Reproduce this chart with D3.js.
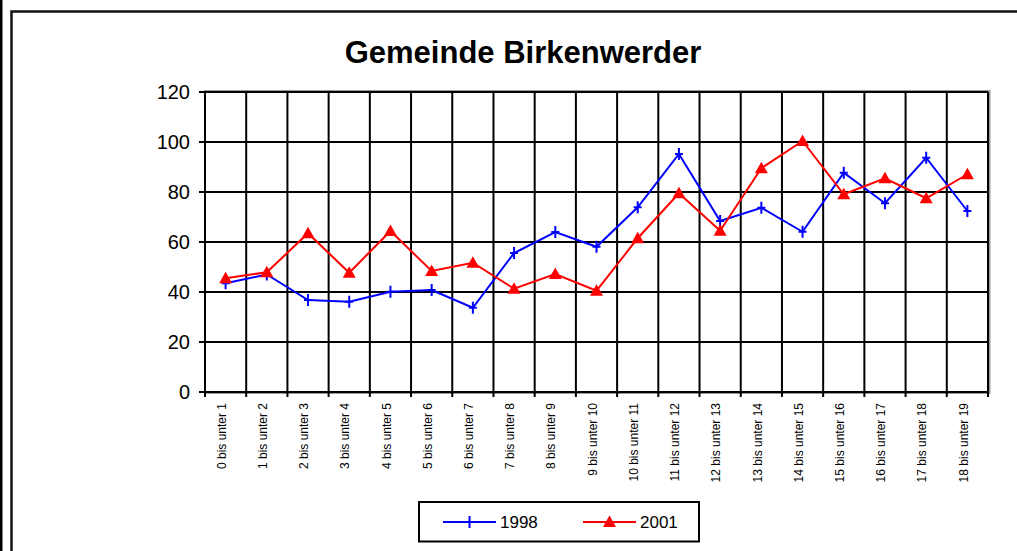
<!DOCTYPE html>
<html>
<head>
<meta charset="utf-8">
<script src="https://cdn.jsdelivr.net/npm/d3@7"></script>
<style>
  body { margin: 0; background: #fff; }
  svg { display: block; font-family: "Liberation Sans", Arial, sans-serif; }
</style>
</head>
<body>
<svg id="chart" width="1017" height="551"></svg>
<script>
const categories = [
  '0 bis unter 1', '1 bis unter 2', '2 bis unter 3', '3 bis unter 4',
  '4 bis unter 5', '5 bis unter 6', '6 bis unter 7', '7 bis unter 8',
  '8 bis unter 9', '9 bis unter 10', '10 bis unter 11', '11 bis unter 12',
  '12 bis unter 13', '13 bis unter 14', '14 bis unter 15', '15 bis unter 16',
  '16 bis unter 17', '17 bis unter 18', '18 bis unter 19'
];

const values1998 = [43.5, 47, 36.8, 36.1, 40.1, 40.8, 33.7, 55.6, 64, 58.1,
                    73.9, 95.2, 68.4, 73.7, 64.1, 87.7, 75.5, 93.7, 72.4];

const values2001 = [45.5, 47.9, 63.5, 47.7, 64.4, 48.4, 51.7, 41.3, 47.2, 40.5,
                    61.5, 79.5, 64.5, 89.5, 100.4, 79.1, 85.5, 77.5, 87.1];

const yTicks = [0, 20, 40, 60, 80, 100, 120];

const series = [
  { name: '1998', values: values1998, color: '#0000ff', marker: 'plus' },
  { name: '2001', values: values2001, color: '#ff0000', marker: 'triangle' }
];

const plot = { left: 205, right: 988, top: 92, bottom: 392 };

const svg = d3.select('#chart');

// outer frame
svg.append('rect')
   .attr('x', 0).attr('y', 0)
   .attr('width', 2.5).attr('height', 551)
   .attr('fill', '#000');

svg.append('path')
   .attr('d', 'M11.5,560 L11.5,11.5 L1020,11.5')
   .attr('fill', 'none')
   .attr('stroke', '#111')
   .attr('stroke-width', 2.5);

svg.append('text')
   .attr('x', 523)
   .attr('y', 63)
   .attr('text-anchor', 'middle')
   .attr('font-size', 31)
   .attr('font-weight', 'bold')
   .text('Gemeinde Birkenwerder');

let xScale = d3.scaleBand(categories, [plot.left, plot.right]);
let yScale = d3.scaleLinear([0, 120], [plot.bottom, plot.top]);
let bw = xScale.bandwidth();

// plot area shadow border
svg.append('rect')
   .attr('x', plot.left)
   .attr('y', plot.top - 1)
   .attr('width', plot.right - plot.left + 1.5)
   .attr('height', plot.bottom - plot.top + 2)
   .attr('fill', 'none')
   .attr('stroke', '#9a9a9a')
   .attr('stroke-width', 2);

let grid = svg.append('g').attr('class', 'grid');

grid.selectAll('line.h')
    .data(yTicks)
    .join('line')
    .attr('class', 'h')
    .attr('x1', plot.left - 6)
    .attr('x2', plot.right)
    .attr('y1', d => yScale(d))
    .attr('y2', d => yScale(d))
    .attr('stroke', '#000')
    .attr('stroke-width', 2);

let bounds = categories.map(c => xScale(c)).concat([xScale(categories[categories.length - 1]) + bw]);

grid.selectAll('line.v')
    .data(bounds)
    .join('line')
    .attr('class', 'v')
    .attr('x1', d => d)
    .attr('x2', d => d)
    .attr('y1', plot.top)
    .attr('y2', plot.bottom + 5)
    .attr('stroke', '#000')
    .attr('stroke-width', 2);

// y axis labels
let yAxis = d3.axisLeft(yScale)
              .tickValues(yTicks)
              .tickSize(0)
              .tickPadding(15);

svg.append('g')
   .attr('transform', `translate(${plot.left},0)`)
   .call(yAxis)
   .call(g => g.select('.domain').remove())
   .selectAll('text')
   .attr('font-size', 20)
   .attr('font-family', '"Liberation Sans", Arial, sans-serif')
   .attr('fill', '#000');

// x axis labels, rotated
let xAxis = d3.axisBottom(xScale).tickSize(0);

svg.append('g')
   .attr('transform', `translate(0,${plot.bottom})`)
   .call(xAxis)
   .call(g => g.select('.domain').remove())
   .selectAll('text')
   .attr('font-size', 12)
   .attr('font-family', '"Liberation Sans", Arial, sans-serif')
   .attr('fill', '#000')
   .attr('text-anchor', 'end')
   .attr('transform', 'translate(-4,11) rotate(-90)')
   .attr('x', 0)
   .attr('y', 0)
   .attr('dy', '0.35em');

const trianglePath = 'M0,-6.5 L6.5,5 L-6.5,5 Z';
const plusPath = 'M0,-6 L0,6 M-4,0 L4,0';

function drawMarker(sel, s) {
  if (s.marker === 'triangle')
    sel.append('path').attr('d', trianglePath).attr('fill', s.color);
  else
    sel.append('path').attr('d', plusPath)
       .attr('stroke', s.color).attr('stroke-width', 2).attr('fill', 'none');
}

let line = d3.line()
             .x((d, i) => xScale(categories[i]) + bw / 2)
             .y(d => yScale(d));

for (let s of series) {
  let g = svg.append('g').attr('class', 'series');
  g.append('path')
   .attr('d', line(s.values))
   .attr('fill', 'none')
   .attr('stroke', s.color)
   .attr('stroke-width', 2);

  g.selectAll('g.pt')
   .data(s.values)
   .join('g')
   .attr('class', 'pt')
   .attr('transform', (d, i) => `translate(${xScale(categories[i]) + bw / 2},${yScale(d)})`)
   .each(function() { drawMarker(d3.select(this), s); });
}

// legend
let legend = svg.append('g').attr('class', 'legend');
legend.append('rect')
      .attr('x', 419).attr('y', 502)
      .attr('width', 280).attr('height', 39.5)
      .attr('fill', '#fff')
      .attr('stroke', '#000')
      .attr('stroke-width', 2);

let legendX = [443, 583];
series.forEach((s, i) => {
  let x0 = legendX[i];
  let item = legend.append('g');
  item.append('line')
      .attr('x1', x0).attr('x2', x0 + 53)
      .attr('y1', 522).attr('y2', 522)
      .attr('stroke', s.color)
      .attr('stroke-width', 2);
  drawMarker(item.append('g').attr('transform', `translate(${x0 + 26.5},522)`), s);
  item.append('text')
      .attr('x', x0 + 57)
      .attr('y', 528)
      .attr('font-size', 17)
      .text(s.name);
});
</script>
</body>
</html>
